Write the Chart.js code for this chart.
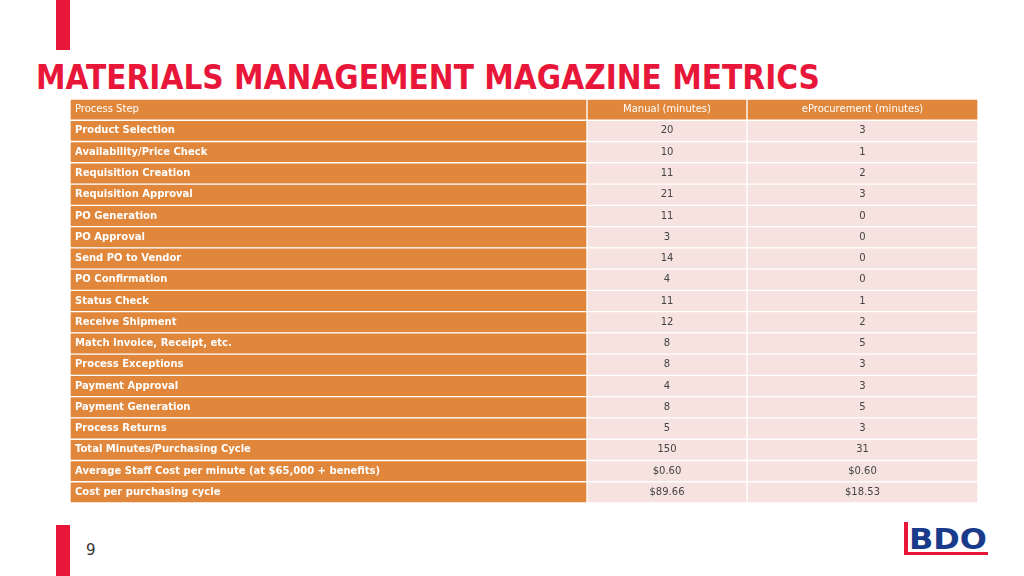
<!DOCTYPE html>
<html><head><meta charset="utf-8">
<script src="https://cdn.jsdelivr.net/npm/chart.js@4"></script>
<style>
body{margin:0;width:1024px;height:576px;background:#fff;position:relative;overflow:hidden;font-family:"DejaVu Sans",sans-serif}
.red{position:absolute;background:#E8173A;width:14px;left:56px}
#title{position:absolute;left:36px;top:58px;font-family:"DejaVu Sans Condensed","DejaVu Sans";font-weight:bold;font-size:33px;color:#E8173A;letter-spacing:0px}
#wrap{position:absolute;left:70px;top:99px;width:908px;height:404px}
#pg{position:absolute;left:86px;top:541px;font-size:15px;color:#333}
#logo{position:absolute;left:904px;top:522px;width:84px;height:36px}
</style></head><body>
<div class="red" style="top:0;height:50px"></div>
<div class="red" style="top:525px;height:51px"></div>
<div id="title">MATERIALS MANAGEMENT MAGAZINE METRICS</div>
<div id="wrap"><canvas id="c"></canvas></div>
<div id="pg">9</div>
<svg id="logo" viewBox="0 0 84 36"><rect x="0" y="0" width="4" height="30" fill="#E8173A"/><rect x="0" y="30" width="84" height="3" fill="#E8173A"/><text x="5" y="27" font-family="DejaVu Sans" font-weight="bold" font-size="29" fill="#1A3B8B" textLength="78" lengthAdjust="spacingAndGlyphs">BDO</text></svg>
<script>
const headers = ["Process Step","Manual (minutes)","eProcurement (minutes)"];
const steps = ["Product Selection","Availability/Price Check","Requisition Creation","Requisition Approval","PO Generation","PO Approval","Send PO to Vendor","PO Confirmation","Status Check","Receive Shipment","Match Invoice, Receipt, etc.","Process Exceptions","Payment Approval","Payment Generation","Process Returns","Total Minutes/Purchasing Cycle","Average Staff Cost per minute (at $65,000 + benefits)","Cost per purchasing cycle"];
const manual = ["20","10","11","21","11","3","14","4","11","12","8","8","4","8","5","150","$0.60","$89.66"];
const eproc = ["3","1","2","3","0","0","0","0","1","2","5","3","3","5","3","31","$0.60","$18.53"];

const rows = ["__h", ...steps];
const colW = [517,160,231];
const col1 = [headers[0], ...steps];
const col2 = [headers[1], ...manual];
const col3 = [headers[2], ...eproc];
const cols=[col1,col2,col3];
const orange="#E0873C", pink="#F6E2DE";
const mk=(i,bg)=>({data:rows.map(()=>colW[i]),backgroundColor:bg,borderColor:"#fff",borderWidth:{top:1,bottom:1,left:1,right:1},borderSkipped:false,barPercentage:1,categoryPercentage:1});
const textPlugin={id:"txt",afterDatasetsDraw(ch){
  const ctx=ch.ctx;ctx.save();ctx.textBaseline="middle";
  cols.forEach((col,ci)=>{
    const meta=ch.getDatasetMeta(ci);
    meta.data.forEach((el,ri)=>{
      const hdr=ri===0;
      ctx.font=(ci===0&&!hdr?"bold 10px":"10px")+' "DejaVu Sans"';
      ctx.fillStyle=(hdr||ci===0)?"#fff":"#444";
      const y=el.y;
      if(ci===0){ctx.textAlign="left";ctx.fillText(col[ri],el.base+5,y);}
      else{ctx.textAlign="center";ctx.fillText(col[ri],(el.base+el.x)/2,y);}
    });
  });ctx.restore();}};
new Chart(document.getElementById("c"),{type:"bar",
 data:{labels:rows,datasets:[mk(0,orange),mk(1,rows.map((r,i)=>i===0?orange:pink)),mk(2,rows.map((r,i)=>i===0?orange:pink))]},
 options:{indexAxis:"y",responsive:true,maintainAspectRatio:false,animation:false,
  layout:{padding:0},
  plugins:{legend:{display:false},tooltip:{enabled:false}},
  scales:{x:{stacked:true,display:false,min:0,max:908},y:{stacked:true,display:false}}},
 plugins:[textPlugin]});
</script></body></html>
